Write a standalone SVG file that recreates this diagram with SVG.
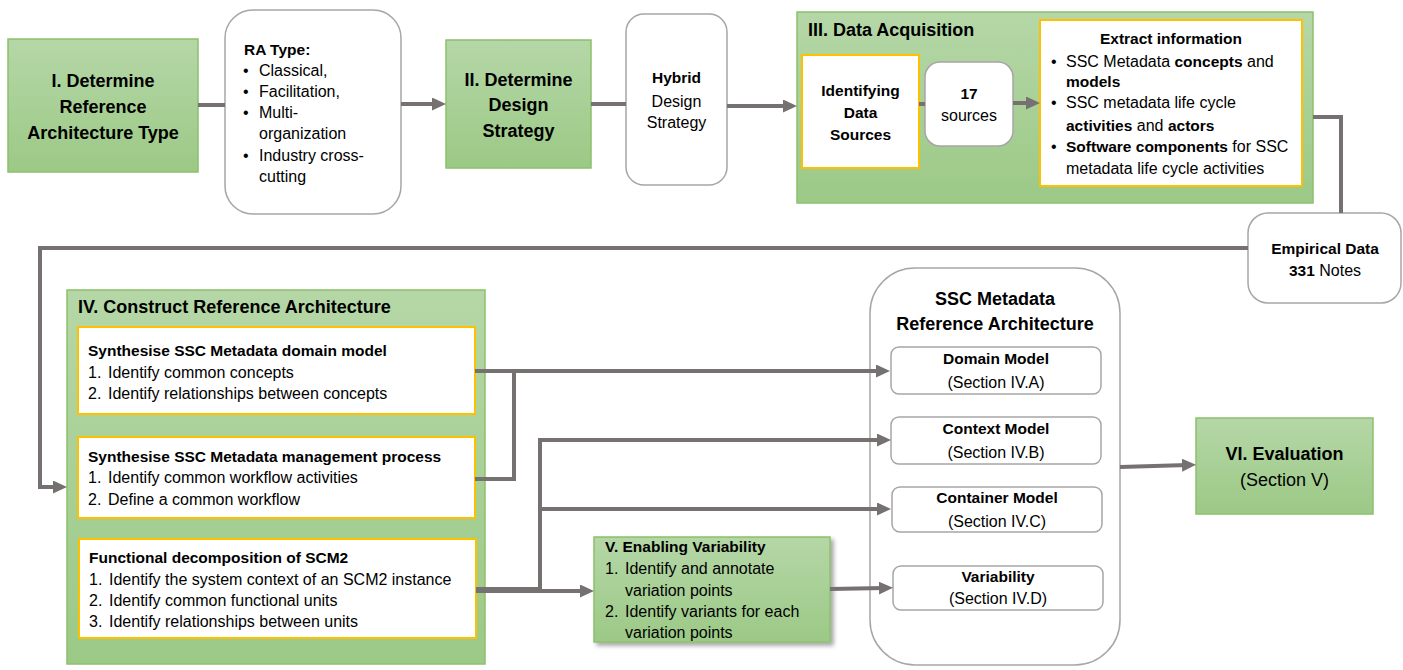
<svg xmlns="http://www.w3.org/2000/svg" width="1403" height="670" viewBox="0 0 1403 670">
<defs>
<linearGradient id="grn" x1="0" y1="0" x2="0" y2="1"><stop offset="0" stop-color="#b5d7a7"/><stop offset="1" stop-color="#9cc986"/></linearGradient>
<marker id="ah" markerUnits="userSpaceOnUse" markerWidth="14" markerHeight="13" refX="6" refY="6.5" orient="auto"><path d="M0,0 L14,6.5 L0,13 z" fill="#767171"/></marker>
<filter id="sh" x="-10%" y="-10%" width="130%" height="130%"><feDropShadow dx="3" dy="3" stdDeviation="2" flood-color="#000" flood-opacity="0.35"/></filter>
<style>
.conn{fill:none;stroke:#767171;stroke-width:4}
.arr{marker-end:url(#ah)}
.green{fill:url(#grn);stroke:#8cc06c;stroke-width:1.5}
.wbox{fill:#fff;stroke:#a6a6a6;stroke-width:1.5}
.obox{fill:#fff;stroke:#ffc000;stroke-width:2}
text{font-family:"Liberation Sans",Arial,sans-serif;fill:#000}
.b15{font-weight:bold;font-size:15.5px}
.r16{font-size:16px}
.b18{font-weight:bold;font-size:18px}
.r18{font-size:18px}
.c{text-anchor:middle}
.b{font-weight:bold;font-size:15.5px}
</style>
</defs>
<rect width="1403" height="670" fill="#fff"/>

<g id="n1">
<rect class="green" x="8" y="39" width="190" height="133"/>
<text class="b18 c" x="103" y="87">I. Determine</text>
<text class="b18 c" x="103" y="113">Reference</text>
<text class="b18 c" x="103" y="139">Architecture Type</text>
</g>

<g id="ratype">
<rect class="wbox" x="225" y="10" width="176" height="204" rx="28"/>
<text class="b15" x="244" y="55">RA Type:</text>
<text class="r16" x="243" y="76">•</text><text class="r16" x="259" y="76">Classical,</text>
<text class="r16" x="243" y="97">•</text><text class="r16" x="259" y="97">Facilitation,</text>
<text class="r16" x="243" y="118">•</text><text class="r16" x="259" y="118">Multi-</text>
<text class="r16" x="259" y="139">organization</text>
<text class="r16" x="243" y="161">•</text><text class="r16" x="259" y="161">Industry cross-</text>
<text class="r16" x="259" y="182">cutting</text>
</g>

<g id="n2">
<rect class="green" x="446" y="40" width="145" height="128"/>
<text class="b18 c" x="518.5" y="86">II. Determine</text>
<text class="b18 c" x="518.5" y="111">Design</text>
<text class="b18 c" x="518.5" y="137">Strategy</text>
</g>

<g id="hybrid">
<rect class="wbox" x="626" y="14" width="101" height="171" rx="18"/>
<text class="b15 c" x="676.5" y="83">Hybrid</text>
<text class="r16 c" x="676.5" y="107">Design</text>
<text class="r16 c" x="676.5" y="128">Strategy</text>
</g>

<g id="n3">
<rect class="green" x="797" y="12" width="516" height="191"/>
<text class="b18" x="808" y="36">III. Data Acquisition</text>
</g>

<g id="identify">
<rect class="obox" x="802" y="55" width="117" height="113"/>
<text class="b15 c" x="860.5" y="96">Identifying</text>
<text class="b15 c" x="860.5" y="118">Data</text>
<text class="b15 c" x="860.5" y="140">Sources</text>
</g>

<g id="sources">
<rect class="wbox" x="925" y="62" width="88" height="84" rx="15"/>
<text class="b15 c" x="969" y="99">17</text>
<text class="r16 c" x="969" y="121">sources</text>
</g>

<g id="extract">
<rect class="obox" x="1040" y="20" width="262" height="166"/>
<text class="b15 c" x="1171" y="44">Extract information</text>
<text class="r16" x="1051" y="67">•</text>
<text class="r16" x="1066" y="67">SSC Metadata <tspan class="b">concepts</tspan> and</text>
<text class="b15" x="1066" y="87">models</text>
<text class="r16" x="1051" y="108">•</text>
<text class="r16" x="1066" y="108">SSC metadata life cycle</text>
<text class="r16" x="1066" y="131"><tspan class="b">activities</tspan> and <tspan class="b">actors</tspan></text>
<text class="r16" x="1051" y="152">•</text>
<text class="r16" x="1066" y="152"><tspan class="b">Software components</tspan> for SSC</text>
<text class="r16" x="1066" y="174">metadata life cycle activities</text>
</g>

<g id="empirical">
<rect class="wbox" x="1248" y="213" width="153" height="90" rx="20"/>
<text class="b15 c" x="1325" y="254">Empirical Data</text>
<text class="r16 c" x="1325" y="276"><tspan class="b">331</tspan> Notes</text>
</g>

<g id="n4">
<rect class="green" x="67" y="290" width="418" height="374"/>
<text class="b18" x="78" y="313">IV. Construct Reference Architecture</text>
</g>

<g id="domainproc">
<rect class="obox" x="78" y="327" width="397" height="87"/>
<text class="b15" x="88" y="356">Synthesise SSC Metadata domain model</text>
<text class="r16" x="88" y="378">1.</text><text class="r16" x="108" y="378">Identify common concepts</text>
<text class="r16" x="88" y="399">2.</text><text class="r16" x="108" y="399">Identify relationships between concepts</text>
</g>

<g id="mgmtproc">
<rect class="obox" x="78" y="437" width="397" height="81"/>
<text class="b15" x="88" y="462">Synthesise SSC Metadata management process</text>
<text class="r16" x="88" y="483">1.</text><text class="r16" x="108" y="483">Identify common workflow activities</text>
<text class="r16" x="88" y="505">2.</text><text class="r16" x="108" y="505">Define a common workflow</text>
</g>

<g id="funcdecomp">
<rect class="obox" x="79" y="539" width="397" height="99"/>
<text class="b15" x="89" y="563">Functional decomposition of SCM2</text>
<text class="r16" x="89" y="585">1.</text><text class="r16" x="109" y="585">Identify the system context of an SCM2 instance</text>
<text class="r16" x="89" y="606">2.</text><text class="r16" x="109" y="606">Identify common functional units</text>
<text class="r16" x="89" y="627">3.</text><text class="r16" x="109" y="627">Identify relationships between units</text>
</g>

<g id="n5">
<rect class="green" x="594" y="537" width="236" height="105" filter="url(#sh)"/>
<text class="b15" x="605" y="552">V. Enabling Variability</text>
<text class="r16" x="605" y="574">1.</text><text class="r16" x="625" y="574">Identify and annotate</text>
<text class="r16" x="625" y="596">variation points</text>
<text class="r16" x="605" y="617">2.</text><text class="r16" x="625" y="617">Identify variants for each</text>
<text class="r16" x="625" y="638">variation points</text>
</g>

<g id="refarch">
<rect class="wbox" x="870" y="268" width="250" height="397" rx="45"/>
<text class="b18 c" x="995" y="305">SSC Metadata</text>
<text class="b18 c" x="995" y="330">Reference Architecture</text>
</g>

<g id="domainmodel">
<rect class="wbox" x="891" y="347" width="210" height="47" rx="8"/>
<text class="b15 c" x="996" y="364">Domain Model</text>
<text class="r16 c" x="996" y="388">(Section IV.A)</text>
</g>

<g id="contextmodel">
<rect class="wbox" x="891" y="417" width="210" height="47" rx="8"/>
<text class="b15 c" x="996" y="434">Context Model</text>
<text class="r16 c" x="996" y="458">(Section IV.B)</text>
</g>

<g id="containermodel">
<rect class="wbox" x="892" y="487" width="210" height="45" rx="8"/>
<text class="b15 c" x="997" y="503">Container Model</text>
<text class="r16 c" x="997" y="527">(Section IV.C)</text>
</g>

<g id="variability">
<rect class="wbox" x="893" y="566" width="210" height="44" rx="8"/>
<text class="b15 c" x="998" y="582">Variability</text>
<text class="r16 c" x="998" y="604">(Section IV.D)</text>
</g>

<g id="n6">
<rect class="green" x="1196" y="418" width="177" height="96"/>
<text class="b18 c" x="1284.5" y="460">VI. Evaluation</text>
<text class="r18 c" x="1284.5" y="486">(Section V)</text>
</g>

<g id="connectors">
<path class="conn" d="M198,105 H225"/>
<path class="conn arr" d="M401,104 H438"/>
<path class="conn" d="M591,104 H626"/>
<path class="conn arr" d="M727,106 H789"/>
<path class="conn" d="M919,104 H925"/>
<path class="conn arr" d="M1013,103 H1032"/>
<path class="conn" d="M1313,117 H1341 V213"/>
<path class="conn arr" d="M1248,248 H40 V487 H59"/>
<path class="conn arr" d="M475,371 H882"/>
<path class="conn" d="M475,479 H514 V371"/>
<path class="conn" style="stroke-width:6" d="M476,590 H540"/>
<path class="conn arr" d="M540,590 V440 H883"/>
<path class="conn arr" d="M540,509 H883"/>
<path class="conn arr" d="M540,591 H586"/>
<path class="conn arr" d="M830,589 L885,588"/>
<path class="conn arr" d="M1120,467 L1188,465"/>
</g>
</svg>
